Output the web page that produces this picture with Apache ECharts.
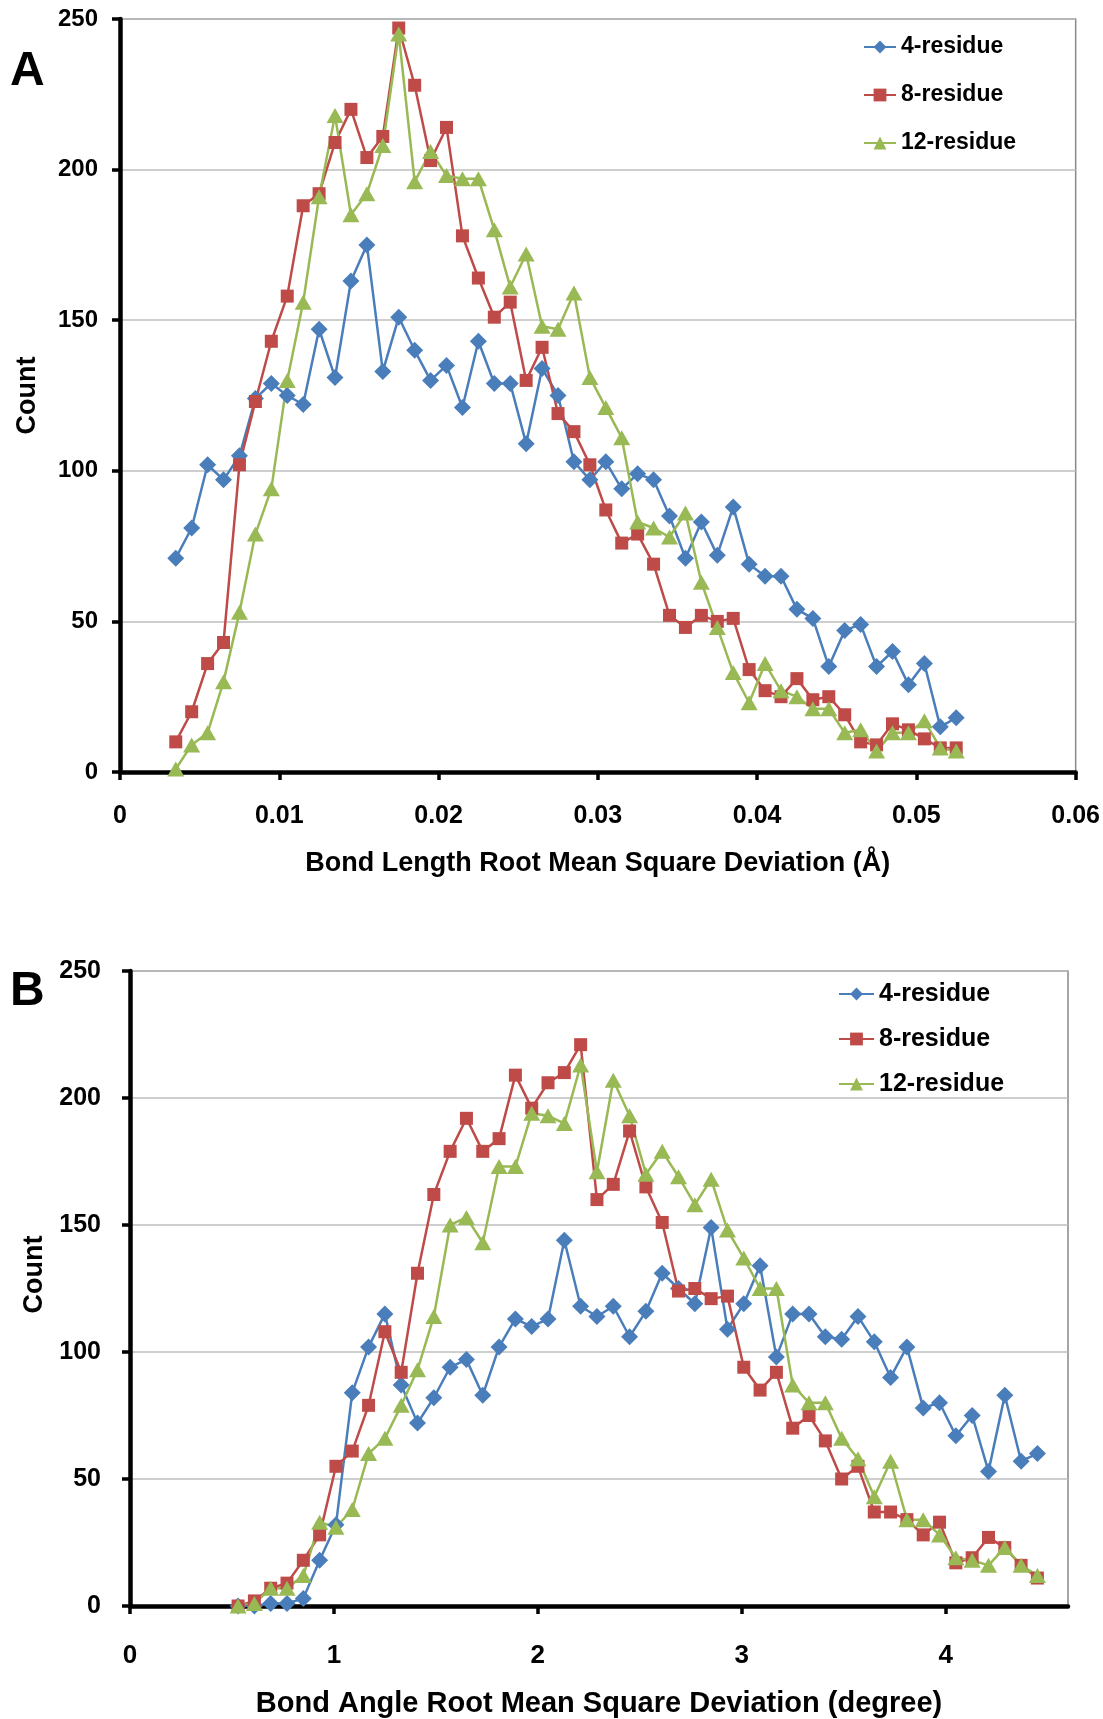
<!DOCTYPE html>
<html>
<head>
<meta charset="utf-8">
<script src="https://cdn.jsdelivr.net/npm/echarts@6/dist/echarts.min.js"></script>
<style>
  html, body { margin: 0; padding: 0; background: #fff; }
  #chart { width: 1103px; height: 1719px; }
</style>
</head>
<body>
<div id="chart"></div>
<script>
// names of the three series
var seriesNames = ['4-residue', '8-residue', '12-residue']

// panel A: bond length RMSD (Å)
var xA = [0.0035, 0.0045, 0.0055, 0.0065, 0.0075, 0.0085, 0.0095, 0.0105, 0.0115, 0.0125,
  0.0135, 0.0145, 0.0155, 0.0165, 0.0175, 0.0185, 0.0195, 0.0205, 0.0215, 0.0225,
  0.0235, 0.0245, 0.0255, 0.0265, 0.0275, 0.0285, 0.0295, 0.0305, 0.0315, 0.0325,
  0.0335, 0.0345, 0.0355, 0.0365, 0.0375, 0.0385, 0.0395, 0.0405, 0.0415, 0.0425,
  0.0435, 0.0445, 0.0455, 0.0465, 0.0475, 0.0485, 0.0495, 0.0505, 0.0515, 0.0525]
var res4A = [71, 81, 102, 97, 105, 124, 129, 125, 122, 147,
  131, 163, 175, 133, 151, 140, 130, 135, 121, 143,
  129, 129, 109, 134, 125, 103, 97, 103, 94, 99,
  97, 85, 71, 83, 72, 88, 69, 65, 65, 54,
  51, 35, 47, 49, 35, 40, 29, 36, 15, 18]
var res8A = [10, 20, 36, 43, 102, 123, 143, 158, 188, 192,
  209, 220, 204, 211, 247, 228, 203, 214, 178, 164,
  151, 156, 130, 141, 119, 113, 102, 87, 76, 79,
  69, 52, 48, 52, 50, 51, 34, 27, 25, 31,
  24, 25, 19, 10, 9, 16, 14, 11, 8, 8]
var res12A = [1, 9, 13, 30, 53, 79, 94, 130, 156, 191,
  218, 185, 192, 208, 245, 196, 206, 198, 197, 197,
  180, 161, 172, 148, 147, 159, 131, 121, 111, 83,
  81, 78, 86, 63, 48, 33, 23, 36, 27, 25,
  21, 21, 13, 14, 7, 13, 13, 17, 8, 7]

// panel B: bond angle RMSD (degree)
var xB = [0.53, 0.61, 0.69, 0.77, 0.85, 0.93, 1.01, 1.09, 1.17, 1.25,
  1.33, 1.41, 1.49, 1.57, 1.65, 1.73, 1.81, 1.89, 1.97, 2.05,
  2.13, 2.21, 2.29, 2.37, 2.45, 2.53, 2.61, 2.69, 2.77, 2.85,
  2.93, 3.01, 3.09, 3.17, 3.25, 3.33, 3.41, 3.49, 3.57, 3.65,
  3.73, 3.81, 3.89, 3.97, 4.05, 4.13, 4.21, 4.29, 4.37, 4.45]
var res4B = [0, 0, 1, 1, 3, 18, 32, 84, 102, 115,
  87, 72, 82, 94, 97, 83, 102, 113, 110, 113,
  144, 118, 114, 118, 106, 116, 131, 125, 119, 149,
  109, 119, 134, 98, 115, 115, 106, 105, 114, 104,
  90, 102, 78, 80, 67, 75, 53, 83, 57, 60]
var res8B = [0, 2, 7, 9, 18, 28, 55, 61, 79, 108,
  92, 131, 162, 179, 192, 179, 184, 209, 196, 206,
  210, 221, 160, 166, 187, 165, 151, 124, 125, 121,
  122, 94, 85, 92, 70, 75, 65, 50, 55, 37,
  37, 34, 28, 33, 17, 19, 27, 23, 16, 11]
var res12B = [0, 1, 7, 7, 12, 33, 31, 38, 60, 66,
  79, 93, 114, 150, 153, 143, 173, 173, 194, 193,
  190, 213, 171, 207, 193, 170, 179, 169, 158, 168,
  148, 137, 125, 125, 87, 80, 80, 66, 58, 43,
  57, 34, 34, 28, 19, 18, 16, 23, 16, 12]

var colors = ['#4A7EBB', '#BE4B48', '#98B954']
var symbols = ['diamond', 'rect', 'triangle']
var symbolSizes = [17, 13, [17, 15]]
var font = 'Liberation Sans, Arial, sans-serif'

function pairs (xs, ys) {
  return xs.map(function (x, i) { return [x, ys[i]] })
}

function makeSeries (idx, gridIdx, xs, ys) {
  return {
    name: seriesNames[idx],
    type: 'line',
    xAxisIndex: gridIdx,
    yAxisIndex: gridIdx,
    data: pairs(xs, ys),
    symbol: symbols[idx],
    symbolSize: symbolSizes[idx],
    showAllSymbol: true,
    lineStyle: { color: colors[idx], width: 2.5 },
    itemStyle: { color: colors[idx] },
    z: 2
  }
}

function axisLine () {
  return { show: true, onZero: false, lineStyle: { color: '#000', width: 4.5 } }
}
function axisTick () {
  return { show: true, inside: false, length: 8, lineStyle: { color: '#000', width: 3.5 } }
}

var myChart = echarts.init(document.getElementById('chart'))

myChart.setOption({
  animation: false,
  backgroundColor: '#fff',
  graphic: [
    { type: 'text', left: 10, top: 48, style: { text: 'A', font: 'bold 48px ' + font, fill: '#000' } },
    { type: 'text', left: 10, top: 968, style: { text: 'B', font: 'bold 48px ' + font, fill: '#000' } }
  ],
  grid: [
    { left: 120, top: 19, width: 957, height: 753, show: true, borderColor: '#888', borderWidth: 1.5, z: 0 },
    { left: 130, top: 971, width: 938, height: 636, show: true, borderColor: '#888', borderWidth: 1.5, z: 0 }
  ],
  legend: [
    {
      orient: 'vertical', left: 863, top: 35, padding: 0,
      itemWidth: 32, itemHeight: 16, itemGap: 24,
      data: seriesNames,
      textStyle: { fontFamily: font, fontWeight: 'bold', fontSize: 23, color: '#000', lineHeight: 24 }
    },
    {
      orient: 'vertical', left: 838, top: 981, padding: 0,
      itemWidth: 35, itemHeight: 16, itemGap: 19,
      data: seriesNames,
      textStyle: { fontFamily: font, fontWeight: 'bold', fontSize: 25, color: '#000', lineHeight: 26 }
    }
  ],
  xAxis: [
    {
      type: 'value', gridIndex: 0, min: 0, max: 0.06, interval: 0.01, z: 1,
      name: 'Bond Length Root Mean Square Deviation (Å)',
      nameLocation: 'middle', nameGap: 78,
      nameTextStyle: { fontFamily: font, fontWeight: 'bold', fontSize: 27, color: '#000' },
      axisLine: axisLine(), axisTick: axisTick(), splitLine: { show: false },
      axisLabel: { margin: 32, fontFamily: font, fontWeight: 'bold', fontSize: 25, color: '#000' }
    },
    {
      type: 'value', gridIndex: 1, min: 0, max: 4.6, interval: 1, z: 1,
      name: 'Bond Angle Root Mean Square Deviation (degree)',
      nameLocation: 'middle', nameGap: 83,
      nameTextStyle: { fontFamily: font, fontWeight: 'bold', fontSize: 29, color: '#000' },
      axisLine: axisLine(), axisTick: axisTick(), splitLine: { show: false },
      axisLabel: { margin: 37, showMaxLabel: false, fontFamily: font, fontWeight: 'bold', fontSize: 26, color: '#000' }
    }
  ],
  yAxis: [
    {
      type: 'value', gridIndex: 0, min: 0, max: 250, interval: 50, z: 1,
      name: 'Count', nameLocation: 'middle', nameGap: 79,
      nameTextStyle: { fontFamily: font, fontWeight: 'bold', fontSize: 27, color: '#000' },
      axisLine: axisLine(), axisTick: axisTick(),
      splitLine: { show: true, lineStyle: { color: '#BEBEBE', width: 1.5 } },
      axisLabel: { margin: 22, fontFamily: font, fontWeight: 'bold', fontSize: 24, color: '#000' }
    },
    {
      type: 'value', gridIndex: 1, min: 0, max: 250, interval: 50, z: 1,
      name: 'Count', nameLocation: 'middle', nameGap: 79,
      nameTextStyle: { fontFamily: font, fontWeight: 'bold', fontSize: 27, color: '#000', padding: [0, 0, 0, 28] },
      axisLine: axisLine(), axisTick: axisTick(),
      splitLine: { show: true, lineStyle: { color: '#BEBEBE', width: 1.5 } },
      axisLabel: { margin: 29, fontFamily: font, fontWeight: 'bold', fontSize: 25, color: '#000' }
    }
  ],
  series: [
    makeSeries(0, 0, xA, res4A),
    makeSeries(1, 0, xA, res8A),
    makeSeries(2, 0, xA, res12A),
    makeSeries(0, 1, xB, res4B),
    makeSeries(1, 1, xB, res8B),
    makeSeries(2, 1, xB, res12B)
  ]
})
</script>
</body>
</html>
